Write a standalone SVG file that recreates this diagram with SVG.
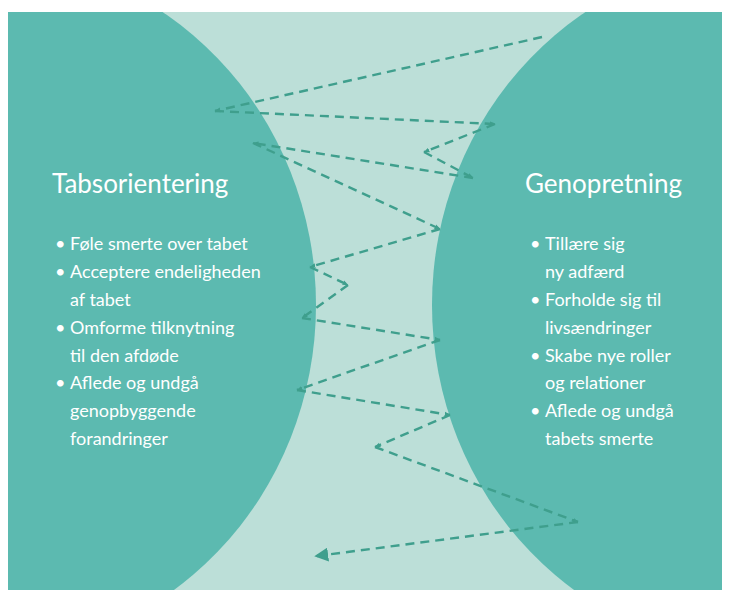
<svg xmlns="http://www.w3.org/2000/svg" width="730" height="595" viewBox="0 0 730 595">
<style>
.bg{fill:#bcdfd8}
.lobe{fill:#5cbab0}
.title{font-family:Lato,"Open Sans","Liberation Sans",sans-serif;font-size:26px;fill:#ffffff}
.item{font-family:Lato,"Open Sans","Liberation Sans",sans-serif;font-size:18px;fill:#ffffff}
.dash{stroke:#3f9f8d;stroke-width:2.4;stroke-dasharray:9 6;fill:none;marker-end:url(#tip)}
.last{marker-end:url(#head)}
</style>
<defs>
<clipPath id="frame"><rect x="8" y="12" width="714" height="578"/></clipPath>
<marker id="tip" viewBox="0 0 10 10" refX="9" refY="5" markerWidth="6" markerHeight="6" markerUnits="userSpaceOnUse" orient="auto"><path d="M0,1 L10,5 L0,9 z" fill="#3f9f8d"/></marker>
<marker id="head" viewBox="0 0 10 10" refX="8" refY="5" markerWidth="14" markerHeight="14" markerUnits="userSpaceOnUse" orient="auto"><path d="M0,0 L10,5 L0,10 z" fill="#3f9f8d"/></marker>
</defs>
<rect class="bg" x="8" y="12" width="714" height="578"/>
<g id="tabsorientering">
<ellipse class="lobe" cx="-20" cy="305" rx="336" ry="349" clip-path="url(#frame)"/>
<text class="title" x="52" y="193">Tabsorientering</text>
<text class="item" x="55" y="250">•</text><text class="item" x="70" y="250">Føle smerte over tabet</text>
<text class="item" x="55" y="278">•</text><text class="item" x="70" y="278">Acceptere endeligheden</text>
<text class="item" x="70" y="306">af tabet</text>
<text class="item" x="55" y="334">•</text><text class="item" x="70" y="334">Omforme tilknytning</text>
<text class="item" x="70" y="362">til den afdøde</text>
<text class="item" x="55" y="389">•</text><text class="item" x="70" y="389">Aflede og undgå</text>
<text class="item" x="70" y="417">genopbyggende</text>
<text class="item" x="70" y="445">forandringer</text>
</g>
<g id="genopretning">
<ellipse class="lobe" cx="768" cy="305" rx="336" ry="349" clip-path="url(#frame)"/>
<text class="title" x="525" y="193">Genopretning</text>
<text class="item" x="530" y="250">•</text><text class="item" x="545" y="250">Tillære sig</text>
<text class="item" x="545" y="278">ny adfærd</text>
<text class="item" x="530" y="306">•</text><text class="item" x="545" y="306">Forholde sig til</text>
<text class="item" x="545" y="334">livsændringer</text>
<text class="item" x="530" y="362">•</text><text class="item" x="545" y="362">Skabe nye roller</text>
<text class="item" x="545" y="389">og relationer</text>
<text class="item" x="530" y="417">•</text><text class="item" x="545" y="417">Aflede og undgå</text>
<text class="item" x="545" y="445">tabets smerte</text>
</g>
<g id="connectors">
<line class="dash" x1="542" y1="37" x2="215" y2="111"/>
<line class="dash" x1="215" y1="111" x2="495" y2="124"/>
<line class="dash" x1="495" y1="124" x2="424" y2="152"/>
<line class="dash" x1="424" y1="152" x2="473" y2="178"/>
<line class="dash" x1="473" y1="178" x2="253" y2="143"/>
<line class="dash" x1="253" y1="143" x2="440" y2="229"/>
<line class="dash" x1="440" y1="229" x2="310" y2="267"/>
<line class="dash" x1="310" y1="267" x2="348" y2="285"/>
<line class="dash" x1="348" y1="285" x2="302" y2="318"/>
<line class="dash" x1="302" y1="318" x2="440" y2="340"/>
<line class="dash" x1="440" y1="340" x2="297" y2="390"/>
<line class="dash" x1="297" y1="390" x2="450" y2="415"/>
<line class="dash" x1="450" y1="415" x2="375" y2="447"/>
<line class="dash" x1="375" y1="447" x2="578" y2="522"/>
<line class="dash last" x1="578" y1="522" x2="317" y2="556"/>
</g>
</svg>
